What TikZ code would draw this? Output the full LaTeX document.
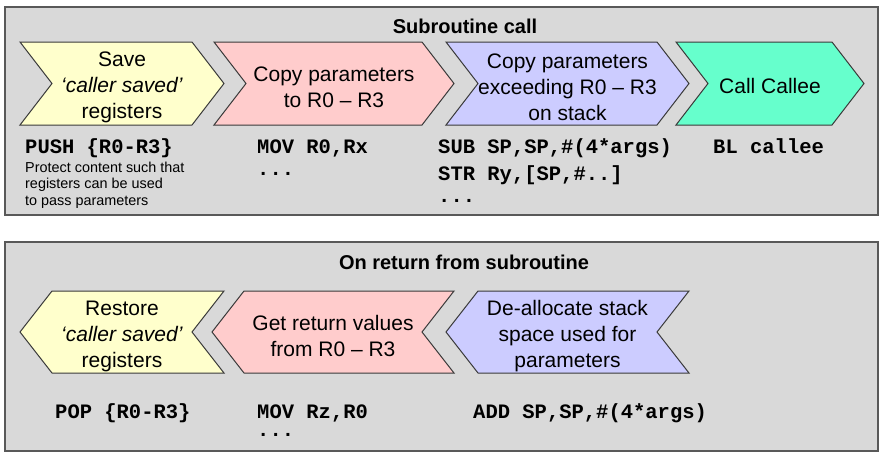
\documentclass[tikz,border=0pt]{standalone}
\usepackage{fontspec}
\setmainfont{Liberation Sans}
\setmonofont{Liberation Mono}
\usetikzlibrary{positioning}
\definecolor{panelfill}{HTML}{D9D9D9}
\definecolor{panelline}{HTML}{595959}
\definecolor{chevline}{HTML}{3A3A3A}
\definecolor{savefill}{HTML}{FFFFCC}
\definecolor{movefill}{HTML}{FFCCCC}
\definecolor{stackfill}{HTML}{CCCCFF}
\definecolor{callfill}{HTML}{66FFCC}
\tikzset{
    panel/.style={draw=panelline, fill=panelfill, line width=1.2pt},
    chev/.style={draw=chevline, line width=1pt, line join=miter},
    chevtext/.style={align=center, inner sep=0pt, font=\fontsize{21}{26}\selectfont},
    heading/.style={anchor=base, inner sep=0pt, font=\bfseries\fontsize{20}{24}\selectfont},
    code/.style={anchor=base west, inner sep=0pt, font=\ttfamily\bfseries\fontsize{20.5}{27}\selectfont},
    note/.style={anchor=base west, inner sep=0pt, font=\fontsize{14.4}{17}\selectfont}
}

\begin{document}
\begin{tikzpicture}[x=1pt, y=-1pt]
    % page frame
    \useasboundingbox (0,0) rectangle (884,455);

    % the two panels
    \draw[panel] (5,7)   rectangle (878,215);
    \draw[panel] (5,242) rectangle (878,451);
    \node[heading] (callhead) at (465,33)  {Subroutine call};
    \node[heading] (rethead)  at (464,269) {On return from subroutine};

    % call steps, pointing right
    \draw[chev, fill=savefill]  (20,42) -- (192,42) -- (224,83.5) -- (192,125) -- (20,125) -- (52,83.5) -- cycle;
    \draw[chev, fill=movefill]  (214,42) -- (422,42) -- (454,83.5) -- (422,125) -- (214,125) -- (246,83.5) -- cycle;
    \draw[chev, fill=stackfill] (446,42) -- (657,42) -- (689,83.5) -- (657,125) -- (446,125) -- (478,83.5) -- cycle;
    \draw[chev, fill=callfill]  (676,42) -- (832,42) -- (864,83.5) -- (832,125) -- (676,125) -- (708,83.5) -- cycle;

    \node[chevtext] (save)    at (122,87)   {Save\\\textit{‘caller saved’}\\registers};
    \node[chevtext] (topar)   at (334,87)   {Copy parameters\\to R0 -- R3};
    \node[chevtext] (tostack) at (567.5,87) {Copy parameters\\exceeding R0 -- R3\\on stack};
    \node[chevtext] (callee)  at (770,86)   {Call Callee};

    % return steps, pointing left
    \draw[chev, fill=savefill]  (52,291) -- (224,291) -- (192,332) -- (224,373) -- (52,373) -- (20,332) -- cycle;
    \draw[chev, fill=movefill]  (244,291) -- (454,291) -- (422,332) -- (454,373) -- (244,373) -- (212,332) -- cycle;
    \draw[chev, fill=stackfill] (478,291) -- (689,291) -- (657,332) -- (689,373) -- (478,373) -- (446,332) -- cycle;

    \node[chevtext] (restore) at (122,336)   {Restore\\\textit{‘caller saved’}\\registers};
    \node[chevtext] (getret)  at (333,336)   {Get return values\\from R0 -- R3};
    \node[chevtext] (dealloc) at (567.5,336) {De-allocate stack\\space used for\\parameters};

    % instructions for the call
    \node[code] (push) at (25,153) {PUSH \{R0-R3\}};
    \node[note] (prot1) at (25,172) {Protect content such that};
    \node[below=16.5pt of prot1.base west, note] (prot2) {registers can be used};
    \node[below=16.5pt of prot2.base west, note] (prot3) {to pass parameters};

    \node[code] (movx) at (257,153) {MOV R0,Rx};
    \node[below=22pt of movx.base west, code] (movxdots) {...};

    \node[code] (sub) at (438,153) {SUB SP,SP,\#(4*args)};
    \node[below=27pt of sub.base west, code] (str) {STR Ry,[SP,\#..]};
    \node[below=22pt of str.base west, code] (subdots) {...};

    \node[code] (bl) at (713,153) {BL callee};

    % instructions on return
    \node[code] (pop)  at (55,418)  {POP \{R0-R3\}};
    \node[code] (movz) at (257,418) {MOV Rz,R0};
    \node[below=18pt of movz.base west, code] (movzdots) {...};
    \node[code] (add)  at (473,418) {ADD SP,SP,\#(4*args)};
\end{tikzpicture}
\end{document}
